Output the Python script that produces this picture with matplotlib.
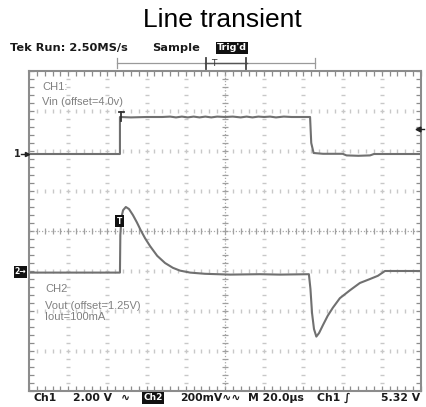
import numpy as np
import matplotlib
matplotlib.use("Agg")
import matplotlib.pyplot as plt

# scope screen: 10 x 8 divisions, values in divisions
ch1_x = [0.0, 1.2, 2.32, 2.32, 2.6, 3.0, 3.4, 3.6, 3.75, 3.9, 4.05, 4.2, 4.35, 4.5, 4.65,
         4.8, 5.0, 5.2, 5.4, 5.55, 5.7, 5.85, 6.0, 6.15, 6.3, 6.5, 6.7, 6.9, 7.17, 7.2,
         7.26, 7.5, 8.0, 8.1, 8.4, 8.7, 8.8, 9.2, 10.0]
ch1_y = [5.925, 5.925, 5.925, 6.85, 6.84, 6.85, 6.85, 6.86, 6.84, 6.86, 6.84, 6.86, 6.84, 6.86, 6.84,
         6.86, 6.85, 6.86, 6.84, 6.86, 6.84, 6.86, 6.85, 6.86, 6.84, 6.86, 6.85, 6.85, 6.85, 6.2,
         5.95, 5.93, 5.93, 5.89, 5.88, 5.89, 5.925, 5.925, 5.925]

ch2_x = [0.0, 2.32, 2.33, 2.36, 2.40, 2.47, 2.55, 2.65, 2.75, 2.85, 2.96, 3.09, 3.27,
         3.47, 3.67, 3.85, 4.11, 4.49, 5.13, 5.89, 6.40, 7.14, 7.18, 7.22, 7.27, 7.33,
         7.40, 7.50, 7.62, 7.75, 7.93, 8.19, 8.44, 8.70, 8.90, 9.08, 10.0]
ch2_y = [2.96, 2.96, 3.9, 4.35, 4.52, 4.6, 4.55, 4.4, 4.22, 4.02, 3.82, 3.62, 3.38,
         3.2, 3.08, 3.01, 2.96, 2.93, 2.91, 2.92, 2.91, 2.92, 2.55, 1.95, 1.55, 1.36,
         1.45, 1.65, 1.88, 2.08, 2.32, 2.52, 2.7, 2.8, 2.88, 3.0, 3.0]

title = "Line transient"
header = ["Tek Run: 2.50MS/s", "Sample"]
ch1_label = ["CH1:", "Vin (offset=4.0v)"]
ch2_label = ["CH2", "Vout (offset=1.25V)", "Iout=100mA"]

W, H = 426, 407
fig = plt.figure(figsize=(W / 100, H / 100), dpi=100)

ax = fig.add_axes([29 / W, 16 / H, 392 / W, 320 / H])
ax.set_xlim(0, 10)
ax.set_ylim(0, 8)

frame = "#8c8c8c"
dots = "#c8c8c8"
trace = "#707070"

# graticule dots
minor_x = np.arange(0, 10.01, 0.2)
minor_y = np.arange(0, 8.01, 0.2)
for gx in range(1, 10):
    if gx == 5:
        continue
    ax.plot([gx] * len(minor_y), minor_y, ls="none", marker="_", ms=2.5, mew=1.0, color=dots)
for gy in range(1, 8):
    if gy == 4:
        continue
    ax.plot(minor_x, [gy] * len(minor_x), ls="none", marker="|", ms=2.5, mew=1.0, color=dots)

# center cross with ticks
ax.plot([0, 10], [4, 4], ls=(0, (1, 1.5)), lw=0.9, color="#a8a8a8")
ax.plot([5, 5], [0, 8], ls=(0, (1, 1.5)), lw=0.9, color="#a8a8a8")
ax.plot(minor_x, [4] * len(minor_x), ls="none", marker="|", ms=5, mew=0.9, color="#a0a0a0")
ax.plot([5] * len(minor_y), minor_y, ls="none", marker="_", ms=5, mew=0.9, color="#a0a0a0")

ax.set_xticks(minor_x)
ax.set_yticks(minor_y)
ax.tick_params(direction="in", length=3.5, width=0.9, color=frame,
               top=True, right=True, labelbottom=False, labelleft=False)
for s in ax.spines.values():
    s.set_color(frame)
    s.set_linewidth(1.5)

# traces
ax.plot(ch1_x, ch1_y, color=trace, lw=1.5, solid_joinstyle="round")
ax.plot(ch2_x, ch2_y, color=trace, lw=1.5, solid_joinstyle="round")

# labels on screen
lab = dict(family="Liberation Sans", fontsize=8, color="#808080", va="center")
ax.text(0.33, 7.6, ch1_label[0], **lab)
ax.text(0.33, 7.22, ch1_label[1], **lab)
ax.text(0.41, 2.55, ch2_label[0], **lab)
ax.text(0.41, 2.13, ch2_label[1], **lab)
ax.text(0.41, 1.85, ch2_label[2], **lab)

# overlay in pixel coords for readouts and markers
ov = fig.add_axes([0, 0, 1, 1])
ov.set_xlim(0, W)
ov.set_ylim(H, 0)
ov.axis("off")

ov.text(222.5, 27, title, ha="center", va="baseline", fontsize=19, family="Liberation Sans")

hd = dict(fontsize=8.2, fontweight="bold", va="center", color="#1a1a1a")
ov.text(10, 48, header[0], **hd)
ov.text(152, 48, header[1], **hd)
ov.text(232, 48, "Trig'd", ha="center", va="center", fontsize=6.8, fontweight="bold",
        color="white", bbox=dict(boxstyle="square,pad=0.12", fc="#111111", ec="none"))

# record window bracket
ov.plot([117, 315], [63, 63], color="#9a9a9a", lw=0.9)
ov.plot([117, 117], [58, 68], color="#9a9a9a", lw=0.9)
ov.plot([315, 315], [58, 68], color="#9a9a9a", lw=0.9)
ov.plot([205, 247], [63, 63], color="#555555", lw=1.0)
ov.plot([206, 206], [58, 69], color="#444444", lw=1.3)
ov.plot([246, 246], [58, 69], color="#444444", lw=1.3)
ov.text(214, 63, "T", ha="center", va="center", fontsize=6.5, color="#333333")

# channel ground markers
ov.text(17, 154, "1", ha="center", va="center", fontsize=7, fontweight="bold", color="#222222")
ov.plot([21, 27], [154, 154], color="#222222", lw=1.0)
ov.plot([27], [154], marker=">", ms=3, color="#222222")
ov.text(20.5, 272, "2\u2192", ha="center", va="center", fontsize=5.5, fontweight="bold",
        color="white", bbox=dict(boxstyle="square,pad=0.15", fc="#111111", ec="none"))
# trigger level arrow
ov.plot([418, 424], [129, 129], color="#222222", lw=1.0)
ov.plot([418], [129], marker="<", ms=3.5, color="#222222")

# trigger point markers on traces
ov.plot([121, 121], [112, 121], color="#333333", lw=1.3)
ov.plot([118.5, 124], [112, 112], color="#333333", lw=1.3)
ov.text(119.5, 221, "T", ha="center", va="center", fontsize=5.5, fontweight="bold",
        color="white", bbox=dict(boxstyle="square,pad=0.2", fc="#111111", ec="none"))

# bottom readout
ft = dict(fontsize=7.8, fontweight="bold", va="center", color="#1a1a1a")
ov.text(33, 398, "Ch1", **ft)
ov.text(73, 398, "2.00 V", **ft)
ov.text(121, 398, "\u223f", **ft)
ov.text(153, 398, "Ch2", ha="center", va="center", fontsize=6.5, fontweight="bold",
        color="white", bbox=dict(boxstyle="square,pad=0.12", fc="#111111", ec="none"))
ov.text(180, 398, "200mV\u223f\u223f", **ft)
ov.text(248, 398, "M 20.0\u00b5s", **ft)
ov.text(317, 398, "Ch1 \u222b", **ft)
ov.text(420, 398, "5.32 V", ha="right", **ft)

fig.savefig("out.png", dpi=100, facecolor="white")
